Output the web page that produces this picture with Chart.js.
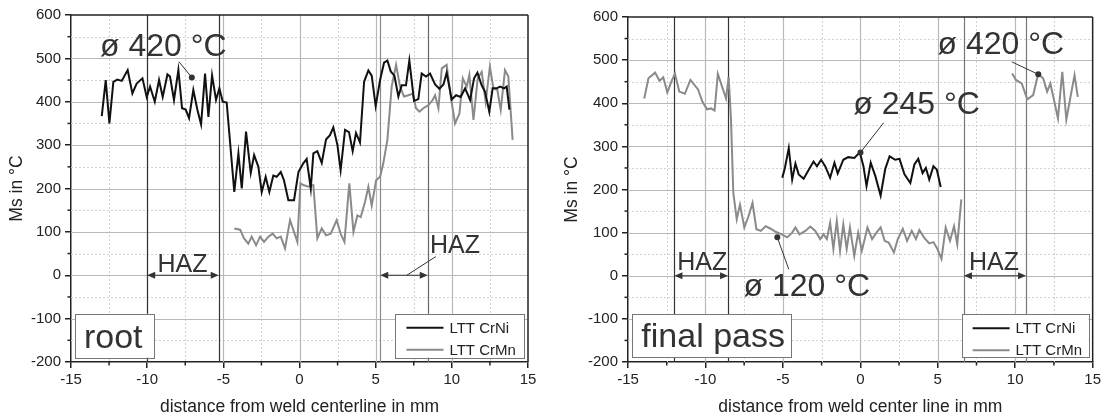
<!DOCTYPE html>
<html>
<head>
<meta charset="utf-8">
<script src="https://cdn.jsdelivr.net/npm/chart.js@4.4.1/dist/chart.umd.min.js"></script>
<style>
  html, body { margin: 0; padding: 0; background: #fff; }
  #wrap { position: relative; width: 1104px; height: 418px; }
  .panel { position: absolute; top: 0; width: 552px; height: 418px; }
  #p1 { left: 0; }
  #p2 { left: 552px; }
</style>
</head>
<body>
<div id="wrap">
  <div class="panel" id="p1"><canvas id="rootChart" width="552" height="418"></canvas></div>
  <div class="panel" id="p2"><canvas id="finalChart" width="552" height="418"></canvas></div>
</div>
<script>
// Axis ranges / names
const xRange = [-15, 15];
const yRange = [-200, 600];
const seriesNames = ['LTT CrNi', 'LTT CrMn'];

// root pass - LTT CrNi
const rootCrNiX = [-12.98, -12.72, -12.48, -12.22, -11.96, -11.67, -11.28, -10.97, -10.69, -10.31,
  -10.03, -9.81, -9.5, -9.22, -8.98, -8.67, -8.5, -8.24, -7.95, -7.71, -7.47, -7.25, -6.97, -6.7,
  -6.46, -6.2, -5.98, -5.74, -5.48, -5.26, -5.04, -4.78, -4.28, -4.01, -3.79, -3.51, -3.2, -2.98,
  -2.7, -2.48, -2.22, -1.98, -1.72, -1.5, -1.23, -1.02, -0.73, -0.36, -0.07, 0.25, 0.47, 0.74,
  0.91, 1.17, 1.46, 1.74, 2.0, 2.22, 2.49, 2.7, 2.99, 3.25, 3.49, 3.71, 3.97, 4.24, 4.52, 4.74,
  5.0, 5.29, 5.55, 5.77, 5.99, 6.23, 6.49, 6.71, 6.99, 7.21, 7.52, 7.8, 8.02, 8.31, 8.57, 8.9,
  9.18, 9.45, 9.66, 9.99, 10.28, 10.58, 10.87, 11.2, 11.46, 11.68, 11.96, 12.18, 12.46, 12.68,
  12.95, 13.17, 13.43, 13.6, 13.78];
const rootCrNiY = [367, 450, 350, 446, 451, 448, 473, 419, 442, 454,
  411, 435, 400, 450, 411, 463, 458, 404, 473, 385, 382, 362, 427, 381,
  348, 465, 365, 461, 404, 431, 400, 398, 192, 281, 200, 331, 236, 277,
  250, 192, 227, 192, 230, 227, 238, 219, 173, 173, 238, 258, 268, 200,
  281, 286, 259, 313, 323, 341, 300, 242, 335, 330, 286, 328, 306, 446, 472, 460,
  390, 450, 490, 495, 470, 460, 412, 438, 438, 495, 402, 406, 465, 458, 465, 440,
  430, 440, 467, 405, 415, 411, 431, 404, 454, 467, 438, 423, 377, 431,
  431, 435, 431, 435, 382];

// root pass - LTT CrMn
const rootCrMnX = [-4.28, -3.9, -3.64, -3.36, -3.14, -2.85, -2.59, -2.33, -2.04, -1.76, -1.5,
  -1.23, -0.95, -0.62, -0.36, -0.14, 0.06, 0.25, 0.58, 0.91, 1.17, 1.46, 1.74, 2.05, 2.44, 2.7,
  2.95, 3.27, 3.54, 3.8, 4.02, 4.3, 4.52, 4.74, 5.03, 5.29, 5.5, 5.77, 6.05, 6.34, 6.6, 6.86,
  7.15, 7.43, 7.65, 7.87, 8.13, 8.46, 8.74, 8.9, 9.12, 9.34, 9.66, 9.93, 10.21, 10.5, 10.72,
  10.98, 11.15, 11.42, 11.7, 11.96, 12.22, 12.5, 12.73, 12.99, 13.21, 13.49, 13.71, 13.99];
const rootCrMnY = [108, 105, 85, 73, 89, 69, 89, 77, 89, 96, 85,
  89, 62, 127, 100, 77, 212, 208, 204, 208, 85, 108, 92, 96, 127, 96,
  77, 212, 100, 138, 134, 169, 204, 161, 219, 227, 258, 312, 435, 485, 435, 412,
  415, 419, 385, 377, 385, 392, 404, 415, 385, 477, 485, 412, 350, 373, 454,
  435, 462, 358, 454, 469, 400, 481, 431, 427, 381, 473, 458, 312];

// final pass - LTT CrNi
const finalCrNiX = [-5.04, -4.87, -4.62, -4.4, -4.19, -3.98, -3.66, -3.33, -3.02, -2.8, -2.53,
  -2.27, -1.95, -1.67, -1.46, -1.1, -0.78, -0.39, -0.03, 0.2, 0.4, 0.67, 0.97, 1.31, 1.61, 1.89,
  2.25, 2.53, 2.85, 3.23, 3.49, 3.74, 4.02, 4.23, 4.45, 4.72, 4.94, 5.19];
const finalCrNiY = [227, 250, 296, 223, 260, 235, 225, 246, 265, 254, 269,
  254, 227, 262, 237, 269, 275, 273, 286, 254, 208, 262, 231, 186, 248, 277,
  269, 271, 235, 215, 258, 271, 238, 250, 223, 254, 246, 206];

// final pass - LTT CrMn (null = gap in the measurement)
const finalCrMnX = [-13.95, -13.68, -13.25, -12.97, -12.72, -12.46, -12.18, -11.97, -11.69, -11.33,
  -10.97, -10.48, -10.2, -9.9, -9.63, -9.41, -9.2, -8.92, -8.67, -8.5, -8.35, -8.2, -7.98, -7.77,
  -7.49, -7.22, -6.96, -6.71, -6.43, -6.11, -5.79, -5.47, -5.08, -4.72, -4.4, -4.19, -3.93, -3.55,
  -3.23, -2.91, -2.59, -2.38, -2.16, -1.95, -1.74, -1.52, -1.31, -1.1, -0.88, -0.67, -0.39, -0.14,
  0.1, 0.46, 0.76, 1.04, 1.31, 1.57, 1.83, 2.17, 2.42, 2.74, 3.02, 3.32, 3.59, 3.81, 4.13, 4.45,
  4.72, 4.98, 5.24, 5.51, 5.79, 6.05, 6.26, 6.52, null,
  9.8, 10.05, 10.42, 10.78, 11.16, 11.48, 11.8, 12.06, 12.27, 12.55, 12.76, 13.04, 13.3, 13.57,
  13.83, 14.04];
const finalCrMnY = [411, 458, 471, 452, 460, 425, 452, 469, 427, 422,
  454, 432, 404, 386, 388, 383, 468, 438, 411, 461, 362, 192, 131, 165,
  112, 138, 169, 108, 104, 115, 109, 102, 96, 89, 100, 112, 96, 104,
  114, 104, 85, 96, 85, 123, 62, 127, 58, 119, 62, 112, 46, 100,
  58, 112, 85, 100, 112, 81, 77, 54, 85, 109, 81, 104, 85, 106, 88, 75,
  78, 62, 39, 112, 81, 115, 73, 177, null,
  469, 454, 446, 409, 419, 468, 458, 427, 446, 400, 365, 473, 362, 415,
  465, 415];

const FONT = 'Arial, "Liberation Sans", sans-serif';
const INK = '#222';
const NOTE = '#333';

function toPoints(xs, ys) {
    return xs.map((x, i) => ({ x: x, y: ys[i] }));
}

// Annotations of each panel, in data units (mm, °C)
const rootNotes = {
    markers: [{ x: -10, color: '#333' }, { x: -5.3, color: '#333' }, { x: 5.3, color: '#888' }, { x: 8.42, color: '#666' }],
    texts: [{ text: 'ø 420 °C', x: -13.1, y: 506, size: 32 }],
    leaders: [{ x1: -7.91, y1: 492, x2: -7.07, y2: 456 }],
    haz: [
        { x1: -10, x2: -5.3, tx: -7.68, ty: 8, align: 'center' },
        { x1: 5.3, x2: 8.42, tx: 8.57, ty: 51, align: 'left', lead: [7.04, 0, 8.95, 43] }
    ],
    box: { text: 'root', x1: -14.74, x2: -9.55, y1: -89, y2: -190 },
    legend: { x1: 6.3, x2: 14.75, y1: -89, y2: -190 }
};
const finalNotes = {
    markers: [{ x: -12, color: '#333' }, { x: -8.54, color: '#333' }, { x: 6.69, color: '#777' }, { x: 10.7, color: '#777' }],
    texts: [
        { text: 'ø 420 °C', x: 4.98, y: 514, size: 32 },
        { text: 'ø 245 °C', x: -0.46, y: 376, size: 32 },
        { text: 'ø 120 °C', x: -7.54, y: -48, size: 32 }
    ],
    leaders: [
        { x1: 9.78, y1: 496, x2: 11.49, y2: 467 },
        { x1: 1.51, y1: 355, x2: 0.01, y2: 286 },
        { x1: -4.62, y1: 15, x2: -5.36, y2: 89 }
    ],
    haz: [
        { x1: -12, x2: -8.54, tx: -10.21, ty: 13, align: 'center' },
        { x1: 6.69, x2: 10.7, tx: 8.63, ty: 13, align: 'center' }
    ],
    box: { text: 'final pass', x1: -14.72, x2: -4.48, y1: -89, y2: -189 },
    legend: { x1: 6.54, x2: 14.73, y1: -89, y2: -189 }
};

function line(ctx, x1, y1, x2, y2) {
    ctx.beginPath();
    ctx.moveTo(x1, y1);
    ctx.lineTo(x2, y2);
    ctx.stroke();
}

function arrowHead(ctx, x, y, dir) {
    ctx.beginPath();
    ctx.moveTo(x, y);
    ctx.lineTo(x - dir * 8, y - 3.5);
    ctx.lineTo(x - dir * 8, y + 3.5);
    ctx.closePath();
    ctx.fill();
}

// Grid, markers, labels, boxes drawn around the datasets
function makeDecor(notes) {
    return {
        id: 'decor',
        beforeDatasetsDraw(chart) {
            const { ctx, chartArea: a, scales } = chart;
            const sx = v => Math.round(scales.x.getPixelForValue(v)) + 0.5;
            const sy = v => Math.round(scales.y.getPixelForValue(v)) + 0.5;
            ctx.save();
            // minor dotted grid
            ctx.setLineDash([2, 2]);
            ctx.strokeStyle = '#d2d2d2';
            ctx.lineWidth = 1;
            for (let v = -12.5; v < 15; v += 5) line(ctx, sx(v), a.top, sx(v), a.bottom);
            for (let v = -150; v < 600; v += 100) line(ctx, a.left, sy(v), a.right, sy(v));
            // major grid
            ctx.setLineDash([]);
            ctx.strokeStyle = '#b8b8b8';
            ctx.lineWidth = 1.2;
            for (let v = -10; v <= 10; v += 5) line(ctx, sx(v), a.top, sx(v), a.bottom);
            for (let v = -100; v <= 500; v += 100) line(ctx, a.left, sy(v), a.right, sy(v));
            // HAZ boundary lines
            ctx.lineWidth = 1.2;
            notes.markers.forEach(m => {
                ctx.strokeStyle = m.color;
                line(ctx, sx(m.x), a.top, sx(m.x), a.bottom);
            });
            ctx.restore();
        },
        afterDatasetsDraw(chart) {
            const { ctx, chartArea: a, scales } = chart;
            const px = v => scales.x.getPixelForValue(v);
            const py = v => scales.y.getPixelForValue(v);
            ctx.save();
            // frame top/right + minor ticks
            ctx.strokeStyle = INK;
            ctx.lineWidth = 1.5;
            line(ctx, a.left, a.top, a.right, a.top);
            line(ctx, a.right, a.top, a.right, a.bottom);
            for (let v = -12.5; v < 15; v += 5) line(ctx, px(v), a.bottom, px(v), a.bottom + 3.5);
            for (let v = -150; v < 600; v += 100) line(ctx, a.left, py(v), a.left - 3.5, py(v));

            ctx.fillStyle = NOTE;
            ctx.strokeStyle = NOTE;
            ctx.textBaseline = 'alphabetic';

            // averages
            notes.texts.forEach(t => {
                ctx.font = t.size + 'px ' + FONT;
                ctx.textAlign = 'left';
                ctx.fillText(t.text, px(t.x), py(t.y));
            });
            ctx.lineWidth = 1;
            notes.leaders.forEach(l => {
                line(ctx, px(l.x1), py(l.y1), px(l.x2), py(l.y2));
                ctx.beginPath();
                ctx.arc(px(l.x2), py(l.y2), 3, 0, Math.PI * 2);
                ctx.fill();
            });

            // HAZ arrows
            notes.haz.forEach(h => {
                const y0 = py(0);
                ctx.lineWidth = 1.2;
                line(ctx, px(h.x1) + 4, y0, px(h.x2) - 4, y0);
                arrowHead(ctx, px(h.x1), y0, -1);
                arrowHead(ctx, px(h.x2), y0, 1);
                if (h.lead) {
                    ctx.lineWidth = 1;
                    line(ctx, px(h.lead[0]), py(h.lead[1]), px(h.lead[2]), py(h.lead[3]));
                }
                ctx.font = '25px ' + FONT;
                ctx.textAlign = h.align;
                ctx.fillText('HAZ', px(h.tx), py(h.ty));
            });

            // pass label box
            const b = notes.box;
            const bx = px(b.x1), by = py(b.y1), bw = px(b.x2) - bx, bh = py(b.y2) - by;
            ctx.fillStyle = '#fff';
            ctx.fillRect(bx, by, bw, bh);
            ctx.strokeStyle = '#777';
            ctx.lineWidth = 1;
            ctx.strokeRect(Math.round(bx) + 0.5, Math.round(by) + 0.5, Math.round(bw), Math.round(bh));
            ctx.fillStyle = NOTE;
            ctx.font = '34px ' + FONT;
            ctx.textAlign = 'left';
            ctx.fillText(b.text, bx + 9, by + bh - 10);

            // legend
            const g = notes.legend;
            const gx = px(g.x1), gy = py(g.y1), gw = px(g.x2) - gx, gh = py(g.y2) - gy;
            ctx.fillStyle = '#fff';
            ctx.fillRect(gx, gy, gw, gh);
            ctx.strokeStyle = '#777';
            ctx.strokeRect(Math.round(gx) + 0.5, Math.round(gy) + 0.5, Math.round(gw), Math.round(gh));
            ctx.font = '15px ' + FONT;
            ctx.textBaseline = 'middle';
            chart.data.datasets.forEach((ds, i) => {
                const ry = gy + 14 + i * 22;
                ctx.strokeStyle = ds.borderColor;
                ctx.lineWidth = 2;
                line(ctx, gx + 11, ry, gx + 48, ry);
                ctx.fillStyle = INK;
                ctx.fillText(ds.label, gx + 54, ry + 1);
            });
            ctx.restore();
        }
    };
}

function makeChart(canvasId, crNi, crMn, notes, xTitle, frame) {
    const ctx = document.getElementById(canvasId).getContext('2d');
    const tickFont = { family: FONT, size: 15 };
    return new Chart(ctx, {
        type: 'scatter',
        data: {
            datasets: [
                { label: seriesNames[0], data: crNi, borderColor: '#111', borderWidth: 2, showLine: true, pointRadius: 0, spanGaps: false },
                { label: seriesNames[1], data: crMn, borderColor: '#8a8a8a', borderWidth: 2, showLine: true, pointRadius: 0, spanGaps: false }
            ]
        },
        options: {
            responsive: false,
            animation: false,
            devicePixelRatio: 1,
            events: [],
            layout: { padding: { top: frame.top, right: frame.right, left: 0, bottom: 0 } },
            plugins: { legend: { display: false }, tooltip: { enabled: false } },
            scales: {
                x: {
                    type: 'linear', min: xRange[0], max: xRange[1],
                    afterFit: s => { s.height = 56; },
                    ticks: { stepSize: 5, color: INK, font: tickFont, padding: 3, maxRotation: 0 },
                    grid: { drawOnChartArea: false, drawTicks: true, tickLength: 6, color: INK, lineWidth: 1.5 },
                    border: { color: INK, width: 1.5 },
                    title: { display: true, text: xTitle, color: INK, font: { family: FONT, size: 17.5 }, padding: { top: 0, bottom: 0 } }
                },
                y: {
                    type: 'linear', min: yRange[0], max: yRange[1],
                    afterFit: s => { s.width = frame.left; },
                    ticks: { stepSize: 100, color: INK, font: tickFont, padding: 4 },
                    grid: { drawOnChartArea: false, drawTicks: true, tickLength: 6, color: INK, lineWidth: 1.5 },
                    border: { color: INK, width: 1.5 },
                    title: { display: true, text: 'Ms in °C', color: INK, font: { family: FONT, size: 17.5 }, padding: { top: frame.titlePad, bottom: 0 } }
                }
            }
        },
        plugins: [makeDecor(notes)]
    });
}

makeChart('rootChart',
    toPoints(rootCrNiX, rootCrNiY), toPoints(rootCrMnX, rootCrMnY), rootNotes,
    'distance from weld centerline in mm',
    { top: 15, right: 24, left: 71, titlePad: 7 });

makeChart('finalChart',
    toPoints(finalCrNiX, finalCrNiY), toPoints(finalCrMnX, finalCrMnY), finalNotes,
    'distance from weld center line in mm',
    { top: 17, right: 7, left: 76, titlePad: 10 });
</script>
</body>
</html>
